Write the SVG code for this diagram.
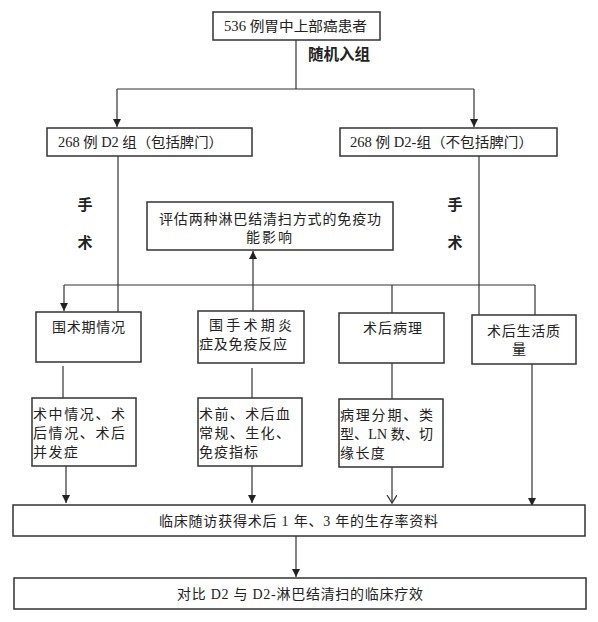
<svg xmlns="http://www.w3.org/2000/svg" width="598" height="622" viewBox="0 0 598 622">
<style>
.box{fill:#fff;stroke:#333;stroke-width:1.5}
.ln{stroke:#333;stroke-width:1.2;fill:none}
.t{font-family:"Liberation Serif","Noto Sans CJK SC",serif;font-size:14px;fill:#222}
.b{font-family:"Noto Sans CJK SC",sans-serif;font-weight:bold;fill:#222}
</style>
<defs>
<marker id="ah" markerUnits="userSpaceOnUse" markerWidth="10" markerHeight="10" refX="8" refY="4" orient="auto">
<path d="M0,0 L8,4 L0,8 Z" fill="#222"/>
</marker>
<marker id="ao" markerUnits="userSpaceOnUse" markerWidth="10" markerHeight="12" refX="8" refY="5" orient="auto">
<path d="M0,0 L8,5 L0,10" fill="none" stroke="#333" stroke-width="1.2"/>
</marker>
</defs>
<rect width="598" height="622" fill="#fff"/>
<g id="connectors">
<line class="ln" x1="296" y1="40" x2="296" y2="89"/>
<line class="ln" x1="117" y1="89" x2="474" y2="89"/>
<line class="ln" x1="117" y1="89" x2="117" y2="127" marker-end="url(#ah)"/>
<line class="ln" x1="474" y1="89" x2="474" y2="127" marker-end="url(#ah)"/>
<line class="ln" x1="118" y1="156" x2="118" y2="312"/>
<line class="ln" x1="479" y1="156" x2="479" y2="315"/>
<line class="ln" x1="64" y1="285" x2="535" y2="285"/>
<line class="ln" x1="64" y1="285" x2="64" y2="311" marker-end="url(#ah)"/>
<line class="ln" x1="392" y1="285" x2="392" y2="313"/>
<line class="ln" x1="535" y1="285" x2="535" y2="315"/>
<line class="ln" x1="253" y1="311" x2="253" y2="251" marker-end="url(#ah)"/>
<line class="ln" x1="63" y1="366" x2="63" y2="398"/>
<line class="ln" x1="252" y1="368" x2="252" y2="398"/>
<line class="ln" x1="392" y1="363" x2="392" y2="399"/>
<line class="ln" x1="66" y1="466" x2="66" y2="503" marker-end="url(#ah)"/>
<line class="ln" x1="252" y1="466" x2="252" y2="503" marker-end="url(#ah)"/>
<line class="ln" x1="392" y1="467" x2="392" y2="503" marker-end="url(#ao)"/>
<line class="ln" x1="532" y1="364" x2="532" y2="506" marker-end="url(#ah)"/>
<line class="ln" x1="296" y1="536" x2="296" y2="577" marker-end="url(#ah)"/>
<text class="b" x="308" y="60" font-size="16" textLength="62" lengthAdjust="spacingAndGlyphs">随机入组</text>
<text class="b" x="85" y="210" font-size="15" text-anchor="middle">手</text>
<text class="b" x="85" y="248" font-size="15" text-anchor="middle">术</text>
<text class="b" x="455" y="210" font-size="15" text-anchor="middle">手</text>
<text class="b" x="455" y="248" font-size="15" text-anchor="middle">术</text>
</g>
<g id="n-top">
<rect class="box" x="213" y="12" width="167" height="28"/>
<text class="t" x="224" y="31" textLength="143" lengthAdjust="spacingAndGlyphs">536 例胃中上部癌患者</text>
</g>
<g id="n-d2">
<rect class="box" x="47" y="128" width="205" height="28"/>
<text class="t" x="58" y="147" textLength="165" lengthAdjust="spacingAndGlyphs">268 例 D2 组（包括脾门）</text>
</g>
<g id="n-d2minus">
<rect class="box" x="340" y="128" width="217" height="28"/>
<text class="t" x="350" y="147" textLength="183" lengthAdjust="spacingAndGlyphs">268 例 D2-组（不包括脾门）</text>
</g>
<g id="n-eval">
<rect class="box" x="147" y="202" width="246" height="48"/>
<text class="t" x="159" y="224" textLength="222" lengthAdjust="spacing">评估两种淋巴结清扫方式的免疫功</text>
<text class="t" x="246" y="242" textLength="46" lengthAdjust="spacing">能影响</text>
</g>
<g id="n-periop">
<rect class="box" x="36" y="312" width="105" height="50"/>
<text class="t" x="52" y="332" textLength="73" lengthAdjust="spacing">围术期情况</text>
</g>
<g id="n-inflam">
<rect class="box" x="198" y="311" width="106" height="52"/>
<text class="t" x="209" y="330" textLength="83" lengthAdjust="spacing">围手术期炎</text>
<text class="t" x="199" y="349" textLength="88" lengthAdjust="spacing">症及免疫反应</text>
</g>
<g id="n-patho">
<rect class="box" x="339" y="313" width="105" height="50"/>
<text class="t" x="363" y="333" textLength="59" lengthAdjust="spacing">术后病理</text>
</g>
<g id="n-qol">
<rect class="box" x="472" y="315" width="104" height="49"/>
<text class="t" x="487" y="336" textLength="73" lengthAdjust="spacing">术后生活质</text>
<text class="t" x="519" y="354" text-anchor="middle">量</text>
</g>
<g id="n-intra">
<rect class="box" x="32" y="398" width="104" height="68"/>
<text class="t" x="33" y="419" textLength="92" lengthAdjust="spacing">术中情况、术</text>
<text class="t" x="33" y="438" textLength="92" lengthAdjust="spacing">后情况、术后</text>
<text class="t" x="33" y="457" letter-spacing="1.4">并发症</text>
</g>
<g id="n-blood">
<rect class="box" x="198" y="398" width="104" height="68"/>
<text class="t" x="199" y="419" textLength="91" lengthAdjust="spacing">术前、术后血</text>
<text class="t" x="199" y="438" textLength="91" lengthAdjust="spacing">常规、生化、</text>
<text class="t" x="199" y="457" letter-spacing="1">免疫指标</text>
</g>
<g id="n-stage">
<rect class="box" x="339" y="399" width="104" height="68"/>
<text class="t" x="340" y="420" textLength="93" lengthAdjust="spacing">病理分期、类</text>
<text class="t" x="340" y="439" textLength="93" lengthAdjust="spacing">型、LN 数、切</text>
<text class="t" x="340" y="458" letter-spacing="1.4">缘长度</text>
</g>
<g id="n-followup">
<rect class="box" x="13" y="505" width="572" height="31"/>
<text class="t" x="159" y="526" textLength="279" lengthAdjust="spacing">临床随访获得术后 1 年、3 年的生存率资料</text>
</g>
<g id="n-compare">
<rect class="box" x="14" y="578" width="572" height="31"/>
<text class="t" x="177" y="599" textLength="246" lengthAdjust="spacing">对比 D2 与 D2-淋巴结清扫的临床疗效</text>
</g>
</svg>
